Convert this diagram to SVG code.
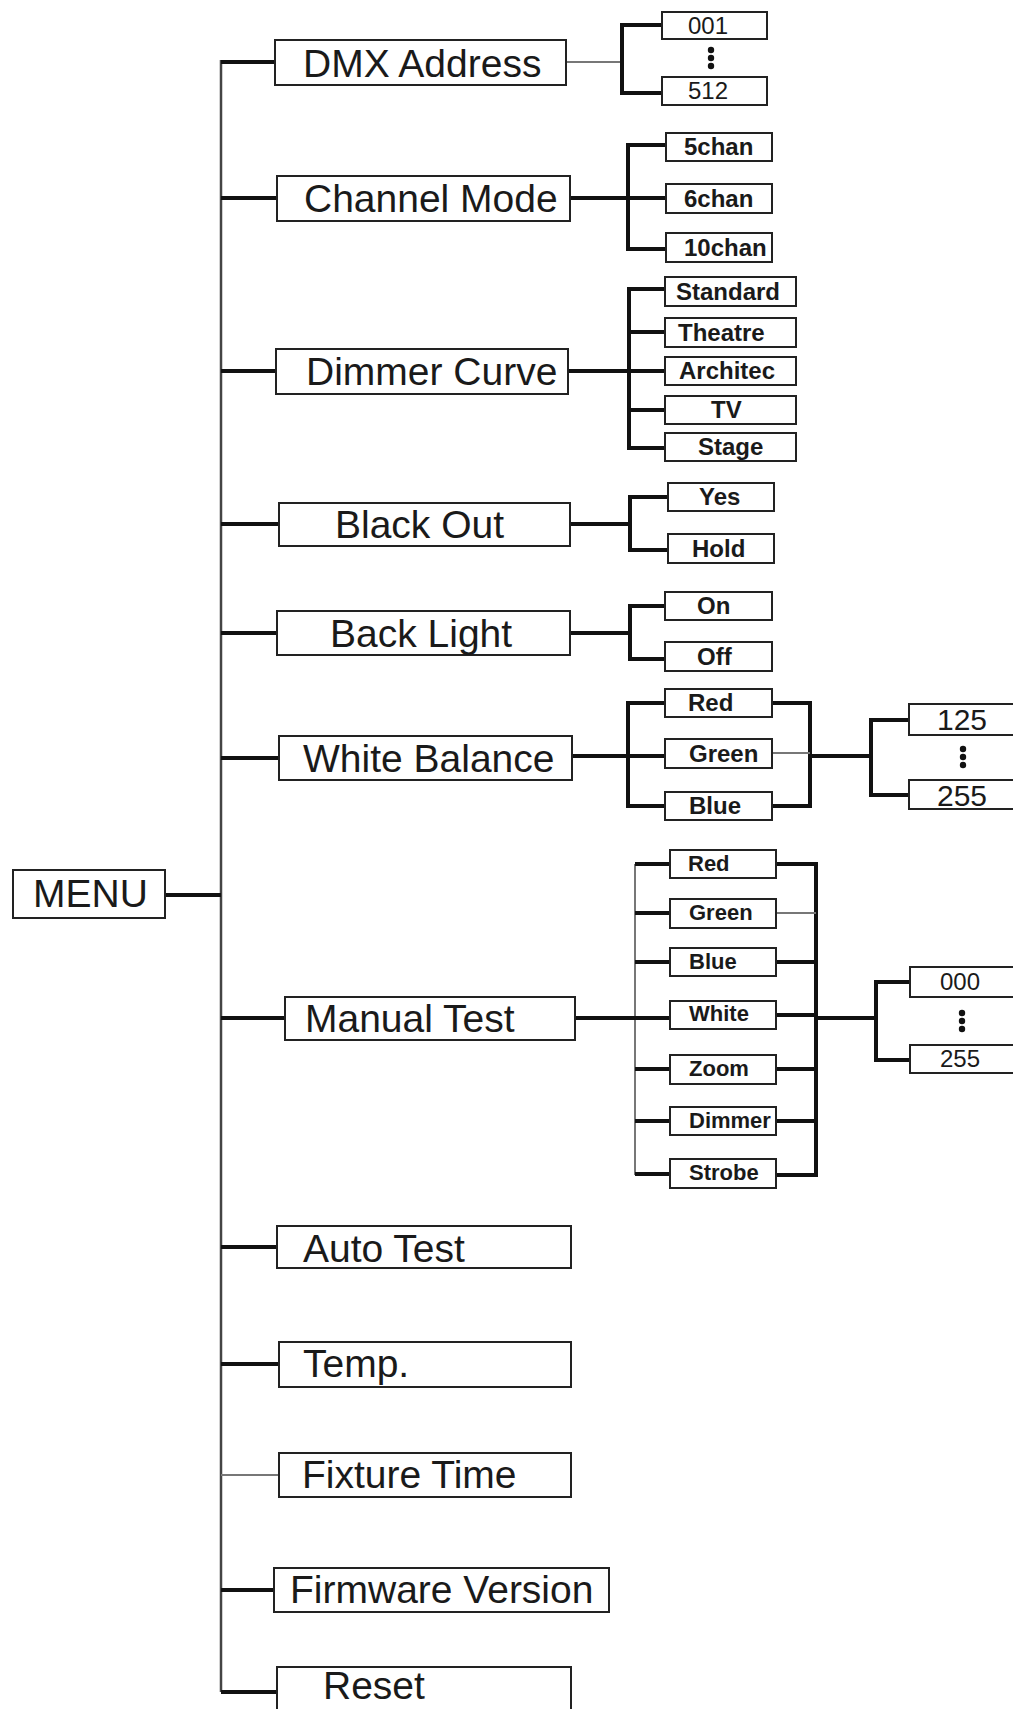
<svg xmlns="http://www.w3.org/2000/svg" width="1013" height="1709" viewBox="0 0 1013 1709">
<style>
.box{fill:#fff;stroke:#222;stroke-width:2}
.t1{font-family:"Liberation Sans",Arial,sans-serif;font-size:39px;fill:#1a1a1a}
.t2{font-family:"Liberation Sans",Arial,sans-serif;font-size:24px;font-weight:bold;fill:#1a1a1a}
.t3{font-family:"Liberation Sans",Arial,sans-serif;font-size:22px;font-weight:bold;fill:#1a1a1a}
.n1{font-family:"Liberation Sans",Arial,sans-serif;font-size:24px;fill:#1a1a1a}
.n2{font-family:"Liberation Sans",Arial,sans-serif;font-size:30px;fill:#1a1a1a}
.k{fill:none;stroke:#111;stroke-width:4}
.g{fill:none;stroke:#777;stroke-width:2}
.v{fill:none;stroke:#444;stroke-width:2.5}
.dot{fill:#111}
</style>
<rect width="1013" height="1709" fill="#fff"/>
<g id="connectors">
<path class="v" d="M221,60 V1692"/>
<path class="k" d="M165,895 H221"/>
<path class="k" d="M221,62 H275 M221,198 H277 M221,371 H276 M221,524 H279 M221,633 H277 M221,758 H279 M221,1018 H285 M221,1247 H277 M221,1364 H279 M221,1590 H274 M221,1692 H277"/>
<path class="g" d="M221,1475 H279"/>
<path class="g" d="M566,62 H622"/>
<path class="k" d="M662,25 H622 V93 H662"/>
<path class="k" d="M570,198 H666 M666,145 H628 V249 H666"/>
<path class="k" d="M568,371 H665 M665,289 H629 V448 H665 M629,332 H665 M629,410 H665"/>
<path class="k" d="M570,524 H630 M668,497 H630 V550 H668"/>
<path class="k" d="M570,633 H630 M665,606 H630 V659 H665"/>
<path class="k" d="M572,756 H665 M665,703 H628 V806 H665"/>
<path class="k" d="M772,703 H810 V806 H772 M810,756 H871 M909,720 H871 V795 H909"/>
<path class="g" d="M772,753 H810"/>
<path class="g" d="M635,864 V1175"/>
<path class="k" d="M575,1018 H670 M635,864 H670 M635,913 H670 M635,962 H670 M635,1069 H670 M635,1121 H670 M635,1174 H670"/>
<path class="k" d="M776,864 H816 V1175 H776 M776,962 H816 M776,1015 H816 M776,1069 H816 M776,1121 H816 M816,1018 H876 M912,982 H876 V1060 H912"/>
<path class="g" d="M776,913 H816"/>
</g>
<g id="menu"><rect class="box" x="13" y="870" width="152" height="48"/><text class="t1" x="33" y="907">MENU</text></g>
<g id="dmx"><rect class="box" x="275" y="40" width="291" height="45"/><text class="t1" x="303" y="77">DMX Address</text></g>
<g id="dmx-001"><rect class="box" x="662" y="12" width="105" height="27"/><text class="n1" x="688" y="34">001</text></g>
<g id="dmx-dots"><circle class="dot" cx="711" cy="50" r="3.2"/><circle class="dot" cx="711" cy="58" r="3.2"/><circle class="dot" cx="711" cy="66" r="3.2"/></g>
<g id="dmx-512"><rect class="box" x="662" y="77" width="105" height="28"/><text class="n1" x="688" y="99">512</text></g>
<g id="chmode"><rect class="box" x="277" y="176" width="293" height="45"/><text class="t1" x="304" y="212">Channel Mode</text></g>
<g id="ch5"><rect class="box" x="666" y="133" width="106" height="28"/><text class="t2" x="684" y="155">5chan</text></g>
<g id="ch6"><rect class="box" x="666" y="184" width="106" height="29"/><text class="t2" x="684" y="207">6chan</text></g>
<g id="ch10"><rect class="box" x="666" y="233" width="106" height="29"/><text class="t2" x="684" y="256">10chan</text></g>
<g id="dimmer"><rect class="box" x="276" y="349" width="292" height="45"/><text class="t1" x="306" y="385">Dimmer Curve</text></g>
<g id="d-standard"><rect class="box" x="665" y="277" width="131" height="29"/><text class="t2" x="676" y="300">Standard</text></g>
<g id="d-theatre"><rect class="box" x="665" y="318" width="131" height="29"/><text class="t2" x="678" y="341">Theatre</text></g>
<g id="d-architec"><rect class="box" x="665" y="357" width="131" height="28"/><text class="t2" x="679" y="379">Architec</text></g>
<g id="d-tv"><rect class="box" x="665" y="396" width="131" height="28"/><text class="t2" x="711" y="418">TV</text></g>
<g id="d-stage"><rect class="box" x="665" y="433" width="131" height="28"/><text class="t2" x="698" y="455">Stage</text></g>
<g id="blackout"><rect class="box" x="279" y="503" width="291" height="43"/><text class="t1" x="335" y="538">Black Out</text></g>
<g id="bo-yes"><rect class="box" x="668" y="483" width="106" height="28"/><text class="t2" x="699" y="505">Yes</text></g>
<g id="bo-hold"><rect class="box" x="668" y="534" width="106" height="29"/><text class="t2" x="692" y="557">Hold</text></g>
<g id="backlight"><rect class="box" x="277" y="611" width="293" height="44"/><text class="t1" x="330" y="647">Back Light</text></g>
<g id="bl-on"><rect class="box" x="665" y="592" width="107" height="28"/><text class="t2" x="697" y="614">On</text></g>
<g id="bl-off"><rect class="box" x="665" y="642" width="107" height="29"/><text class="t2" x="697" y="665">Off</text></g>
<g id="wb"><rect class="box" x="279" y="736" width="293" height="44"/><text class="t1" x="303" y="772">White Balance</text></g>
<g id="wb-red"><rect class="box" x="665" y="689" width="107" height="28"/><text class="t2" x="688" y="711">Red</text></g>
<g id="wb-green"><rect class="box" x="665" y="739" width="107" height="29"/><text class="t2" x="689" y="762">Green</text></g>
<g id="wb-blue"><rect class="box" x="665" y="792" width="107" height="28"/><text class="t2" x="689" y="814">Blue</text></g>
<g id="wb-125"><rect class="box" x="909" y="704" width="115" height="31"/><text class="n2" x="937" y="730">125</text></g>
<g id="wb-dots"><circle class="dot" cx="963" cy="749" r="3.2"/><circle class="dot" cx="963" cy="757" r="3.2"/><circle class="dot" cx="963" cy="765" r="3.2"/></g>
<g id="wb-255"><rect class="box" x="909" y="780" width="115" height="29"/><text class="n2" x="937" y="806">255</text></g>
<g id="manual"><rect class="box" x="285" y="997" width="290" height="43"/><text class="t1" x="305" y="1032">Manual Test</text></g>
<g id="mt-red"><rect class="box" x="670" y="850" width="106" height="28"/><text class="t3" x="688" y="871">Red</text></g>
<g id="mt-green"><rect class="box" x="670" y="899" width="106" height="29"/><text class="t3" x="689" y="920">Green</text></g>
<g id="mt-blue"><rect class="box" x="670" y="948" width="106" height="28"/><text class="t3" x="689" y="969">Blue</text></g>
<g id="mt-white"><rect class="box" x="670" y="1001" width="106" height="28"/><text class="t3" x="689" y="1021">White</text></g>
<g id="mt-zoom"><rect class="box" x="670" y="1055" width="106" height="29"/><text class="t3" x="689" y="1076">Zoom</text></g>
<g id="mt-dimmer"><rect class="box" x="670" y="1107" width="106" height="28"/><text class="t3" x="689" y="1128">Dimmer</text></g>
<g id="mt-strobe"><rect class="box" x="670" y="1159" width="106" height="29"/><text class="t3" x="689" y="1180">Strobe</text></g>
<g id="mt-000"><rect class="box" x="910" y="967" width="115" height="30"/><text class="n1" x="940" y="990">000</text></g>
<g id="mt-dots"><circle class="dot" cx="962" cy="1013" r="3.2"/><circle class="dot" cx="962" cy="1021" r="3.2"/><circle class="dot" cx="962" cy="1029" r="3.2"/></g>
<g id="mt-255"><rect class="box" x="910" y="1045" width="115" height="28"/><text class="n1" x="940" y="1067">255</text></g>
<g id="autotest"><rect class="box" x="277" y="1226" width="294" height="42"/><text class="t1" x="303" y="1262">Auto Test</text></g>
<g id="temp"><rect class="box" x="279" y="1342" width="292" height="45"/><text class="t1" x="303" y="1377">Temp.</text></g>
<g id="fixture"><rect class="box" x="279" y="1453" width="292" height="44"/><text class="t1" x="302" y="1488">Fixture Time</text></g>
<g id="firmware"><rect class="box" x="274" y="1568" width="335" height="44"/><text class="t1" x="290" y="1603">Firmware Version</text></g>
<g id="reset"><rect class="box" x="277" y="1667" width="294" height="60"/><text class="t1" x="323" y="1699">Reset</text></g>
</svg>
